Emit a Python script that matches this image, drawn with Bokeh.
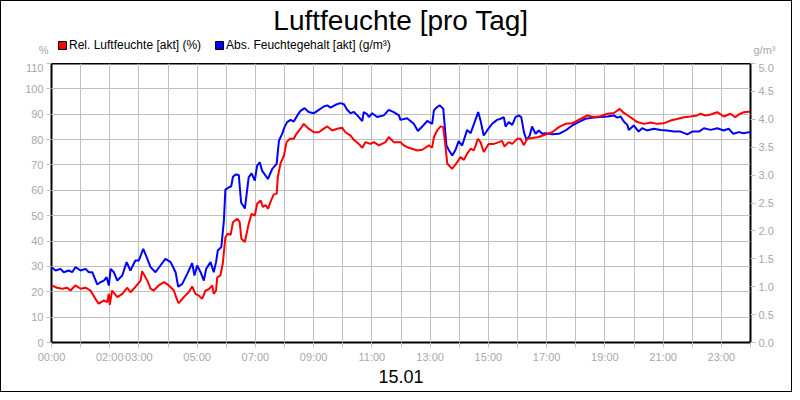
from bokeh.plotting import figure
from bokeh.layouts import column
from bokeh.models import (Range1d, LinearAxis, FixedTicker, PrintfTickFormatter,
                          Legend, LegendItem, Title)
from bokeh.embed import file_html
from bokeh.resources import INLINE

# Rel. Luftfeuchte (%) - Stunden / Werte
rel_hours = [0.0, 0.19, 0.37, 0.54, 0.65, 0.82, 1.00, 1.17, 1.34, 1.51,
             1.62, 1.80, 1.91, 1.97, 2.00, 2.08, 2.26, 2.43, 2.60, 2.71,
             2.88, 3.06, 3.11, 3.29, 3.40, 3.51, 3.68, 3.86, 4.03, 4.20,
             4.32, 4.37, 4.54, 4.71, 4.83, 4.94, 5.06, 5.17, 5.29, 5.40,
             5.52, 5.57, 5.65, 5.69, 5.80, 5.88, 5.97, 6.05, 6.15, 6.23,
             6.38, 6.46, 6.52, 6.64, 6.77, 6.87, 6.98, 7.06, 7.18, 7.26,
             7.35, 7.43, 7.54, 7.63, 7.73, 7.77, 7.86, 7.98, 8.07, 8.18,
             8.32, 8.41, 8.55, 8.66, 8.83, 9.01, 9.18, 9.35, 9.47, 9.64,
             9.81, 9.98, 10.09, 10.27, 10.38, 10.55, 10.67, 10.78, 10.95, 11.07,
             11.24, 11.47, 11.58, 11.75, 11.98, 12.10, 12.21, 12.38, 12.56, 12.73,
             12.96, 13.07, 13.13, 13.24, 13.36, 13.45, 13.53, 13.59, 13.76, 13.93,
             14.04, 14.16, 14.27, 14.39, 14.50, 14.64, 14.73, 14.84, 15.01, 15.19,
             15.36, 15.47, 15.55, 15.70, 15.82, 15.99, 16.10, 16.22, 16.33, 16.50,
             16.73, 16.96, 17.19, 17.42, 17.65, 17.88, 18.05, 18.39, 18.62, 18.85,
             19.08, 19.31, 19.51, 19.65, 19.88, 20.11, 20.34, 20.57, 20.80, 21.02,
             21.25, 21.48, 21.71, 21.94, 22.17, 22.28, 22.45, 22.63, 22.86, 23.08,
             23.31, 23.48, 23.60, 23.77, 24.0]
rel_values = [22.5, 21.6, 21.2, 21.6, 20.5, 22.5, 21.2, 21.6, 20.5, 17.2,
              15.3, 16.6, 15.9, 19.2, 14.8, 20.5, 17.9, 19.2, 21.6, 19.8,
              21.9, 24.4, 28.1, 24.4, 21.2, 20.5, 22.5, 23.8, 22.5, 20.5,
              16.6, 15.5, 17.9, 19.8, 22.1, 19.2, 18.5, 17.2, 20.5, 21.0,
              22.5, 19.2, 20.5, 25.7, 26.5, 31.0, 41.5, 42.9, 42.5, 47.4,
              48.8, 47.5, 40.9, 39.6, 46.8, 50.7, 50.0, 54.7, 56.0, 53.4,
              54.2, 52.7, 56.0, 58.4, 58.6, 65.2, 70.5, 73.7, 79.0, 80.3,
              80.3, 82.3, 84.3, 86.2, 84.3, 82.9, 82.9, 84.3, 85.2, 83.6,
              84.3, 84.7, 82.9, 81.6, 79.9, 78.3, 76.8, 79.0, 78.3, 79.0,
              77.7, 79.0, 81.0, 79.0, 79.0, 77.7, 77.0, 76.4, 75.7, 76.0,
              77.7, 76.8, 81.0, 83.6, 85.2, 84.9, 77.0, 70.5, 68.5, 71.1,
              73.1, 72.0, 74.4, 76.4, 75.7, 80.3, 79.0, 75.1, 78.3, 78.3,
              79.0, 79.5, 77.3, 79.0, 78.3, 80.3, 80.3, 77.8, 80.3, 80.6,
              81.0, 82.0, 82.9, 84.9, 86.2, 86.4, 87.5, 89.5, 88.9, 89.2,
              90.2, 90.5, 92.1, 90.5, 88.8, 86.9, 86.2, 86.7, 86.2, 86.4,
              87.5, 88.1, 88.8, 89.1, 89.5, 90.2, 89.5, 89.9, 90.8, 89.1,
              90.2, 88.8, 89.9, 90.8, 91.1]

# Abs. Feuchtegehalt (g/m³)
abs_hours = [0.0, 0.14, 0.31, 0.42, 0.59, 0.71, 0.82, 1.00, 1.17, 1.28,
             1.40, 1.57, 1.68, 1.80, 1.89, 1.97, 2.03, 2.14, 2.26, 2.43,
             2.58, 2.71, 2.88, 3.00, 3.15, 3.29, 3.40, 3.57, 3.74, 3.91,
             4.09, 4.26, 4.35, 4.49, 4.66, 4.83, 4.91, 5.00, 5.12, 5.23,
             5.31, 5.46, 5.57, 5.65, 5.71, 5.83, 5.92, 5.97, 6.09, 6.17,
             6.23, 6.32, 6.43, 6.51, 6.64, 6.77, 6.87, 6.98, 7.06, 7.15,
             7.23, 7.43, 7.58, 7.73, 7.81, 7.92, 8.00, 8.09, 8.21, 8.32,
             8.44, 8.55, 8.69, 8.83, 9.01, 9.18, 9.35, 9.47, 9.58, 9.75,
             9.92, 10.04, 10.15, 10.27, 10.38, 10.50, 10.67, 10.72, 10.84, 10.90,
             11.01, 11.18, 11.41, 11.58, 11.75, 11.93, 11.98, 12.21, 12.44, 12.58,
             12.73, 12.90, 13.07, 13.13, 13.24, 13.33, 13.45, 13.56, 13.64, 13.76,
             13.87, 13.98, 14.10, 14.27, 14.39, 14.50, 14.65, 14.73, 14.84, 14.96,
             15.13, 15.30, 15.42, 15.53, 15.59, 15.70, 15.82, 15.93, 16.04, 16.13,
             16.22, 16.31, 16.42, 16.50, 16.62, 16.73, 16.85, 16.96, 17.19, 17.42,
             17.65, 17.88, 18.10, 18.33, 18.62, 18.85, 19.08, 19.31, 19.42, 19.54,
             19.65, 19.77, 19.82, 19.99, 20.16, 20.28, 20.45, 20.68, 20.91, 21.14,
             21.37, 21.60, 21.83, 22.00, 22.23, 22.40, 22.63, 22.86, 23.08, 23.25,
             23.41, 23.60, 23.77, 23.94, 24.0]
abs_values = [1.35, 1.29, 1.32, 1.26, 1.29, 1.26, 1.35, 1.29, 1.32, 1.26,
              1.26, 1.04, 1.08, 1.11, 1.17, 1.02, 1.32, 1.26, 1.11, 1.20,
              1.44, 1.29, 1.47, 1.47, 1.68, 1.50, 1.35, 1.26, 1.38, 1.50,
              1.44, 1.26, 1.00, 1.05, 1.23, 1.42, 1.20, 1.38, 1.26, 1.11,
              1.32, 1.44, 1.26, 1.44, 1.65, 1.71, 2.19, 2.74, 2.78, 2.80,
              2.97, 3.01, 3.00, 2.51, 2.40, 2.96, 3.03, 2.90, 3.17, 3.23,
              3.08, 2.93, 3.11, 3.20, 3.62, 3.74, 3.86, 3.95, 3.99, 3.96,
              4.07, 4.15, 4.20, 4.13, 4.11, 4.17, 4.23, 4.25, 4.21, 4.26,
              4.29, 4.27, 4.17, 4.11, 4.13, 4.07, 3.97, 4.13, 4.09, 4.04,
              4.11, 4.04, 4.07, 4.17, 4.13, 4.07, 3.99, 4.02, 3.92, 3.79,
              3.87, 3.97, 3.92, 4.16, 4.22, 4.25, 4.19, 3.53, 3.45, 3.35,
              3.45, 3.61, 3.53, 3.81, 3.75, 3.91, 4.13, 3.98, 3.71, 3.80,
              3.92, 3.99, 4.01, 4.04, 3.87, 3.95, 3.90, 4.04, 4.07, 4.04,
              3.77, 3.63, 3.71, 3.87, 3.74, 3.80, 3.74, 3.75, 3.73, 3.74,
              3.80, 3.89, 3.95, 4.01, 4.03, 4.04, 4.05, 4.07, 4.03, 4.05,
              3.96, 3.90, 3.81, 3.89, 3.78, 3.84, 3.80, 3.83, 3.81, 3.80,
              3.78, 3.78, 3.73, 3.78, 3.78, 3.84, 3.81, 3.84, 3.80, 3.83,
              3.74, 3.77, 3.75, 3.77, 3.76]

hour_ticks = list(range(25))
hour_labels = ["00:00", "", "02:00", "03:00", "", "05:00", "", "07:00", "",
               "09:00", "", "11:00", "", "13:00", "", "15:00", "", "17:00", "",
               "19:00", "", "21:00", "", "23:00", ""]
rel_ticks = [0, 10, 20, 30, 40, 50, 60, 70, 80, 90, 100, 110]
abs_ticks = [0.0, 0.5, 1.0, 1.5, 2.0, 2.5, 3.0, 3.5, 4.0, 4.5, 5.0]

FONT = "Liberation Sans"
GREY = "#a8a8a8"
GRID = "#c0c0c0"
W = 790
HEAD_H = 62
HEAD_TOP = 34
FRAME_W = 699

# Kopf: Titel, Legende und Einheiten ueber den Achsen
head = figure(width=W, height=HEAD_H, output_backend="svg", toolbar_location=None,
              title="Luftfeuchte [pro Tag]",
              x_range=Range1d(0, FRAME_W), y_range=Range1d(0, HEAD_H - HEAD_TOP),
              x_axis_location=None, y_axis_location="left",
              min_border_left=50, min_border_right=W - 50 - FRAME_W,
              min_border_top=HEAD_TOP, min_border_bottom=0, outline_line_color=None)
head.grid.visible = False
head.title.align = "center"
head.title.text_font = FONT
head.title.text_font_size = "28px"
head.title.text_font_style = "normal"
head.title.text_color = "black"
head.title.standoff = 0
head.add_layout(LinearAxis(), "right")
for ax, unit in zip(head.yaxis, ["%", "g/m³"]):
    ax.ticker = FixedTicker(ticks=[])
    ax.axis_line_color = None
    ax.major_tick_line_color = None
    ax.minor_tick_line_color = None
    ax.axis_label = unit
    ax.axis_label_orientation = "horizontal"
    ax.axis_label_standoff = 3
    ax.axis_label_text_font = FONT
    ax.axis_label_text_font_size = "11px"
    ax.axis_label_text_font_style = "normal"
    ax.axis_label_text_color = GREY

# unsichtbare Stellvertreter fuer die Legendenkaestchen
q_rel = head.quad(left=[-20], right=[-10], top=[-10], bottom=[-20],
                  fill_color="#ff0000", line_color="black")
q_abs = head.quad(left=[-20], right=[-10], top=[-10], bottom=[-20],
                  fill_color="#0000ff", line_color="black")
legend = Legend(items=[LegendItem(label="Rel. Luftfeuchte [akt] (%)", renderers=[q_rel]),
                       LegendItem(label="Abs. Feuchtegehalt [akt] (g/m³)", renderers=[q_abs])],
                orientation="horizontal", location=(6, 11),
                glyph_width=10, glyph_height=10, label_height=12, label_standoff=2, spacing=13,
                padding=0, margin=0, border_line_color=None, background_fill_alpha=0,
                label_text_font=FONT, label_text_font_size="12px",
                label_text_color="black", label_text_baseline="middle")
head.add_layout(legend)

# Hauptdiagramm
p = figure(width=W, height=390 - HEAD_H, output_backend="svg", toolbar_location=None,
           x_range=Range1d(0, 24), y_range=Range1d(0, 110),
           min_border_left=50, min_border_right=W - 50 - FRAME_W,
           min_border_top=0, min_border_bottom=390 - HEAD_H - 279)
p.extra_y_ranges = {"abs": Range1d(0, 5)}
p.outline_line_color = "black"
p.outline_line_width = 2

p.xaxis.ticker = FixedTicker(ticks=hour_ticks)
p.xaxis.major_label_overrides = dict(zip(hour_ticks, hour_labels))
p.yaxis.ticker = FixedTicker(ticks=rel_ticks)
p.xgrid.ticker = FixedTicker(ticks=hour_ticks)
p.ygrid.ticker = FixedTicker(ticks=rel_ticks)
p.grid.grid_line_color = GRID

right = LinearAxis(y_range_name="abs", ticker=FixedTicker(ticks=abs_ticks),
                   formatter=PrintfTickFormatter(format="%.1f"))
p.add_layout(right, "right")

for ax in p.axis:
    ax.axis_line_color = None
    ax.major_tick_line_color = GRID
    ax.major_tick_in = 0
    ax.major_tick_out = 5
    ax.minor_tick_line_color = None
    ax.major_label_text_color = GREY
    ax.major_label_text_font = FONT
    ax.major_label_text_font_size = "11px"
    ax.major_label_standoff = 3

p.add_layout(Title(text="15.01", align="center", text_font=FONT, text_font_size="18px",
                   text_font_style="normal", text_color="black", standoff=4), "below")

p.line(abs_hours, abs_values, y_range_name="abs", color="#0000ff", line_width=2)
p.line(rel_hours, rel_values, color="#ff0000", line_width=2)

page = column(head, p, spacing=0)
page.styles = {"border": "1px solid black"}

open("out.html", "w").write(file_html(page, INLINE))
